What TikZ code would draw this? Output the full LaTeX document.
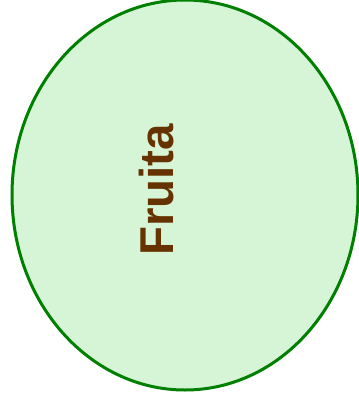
\documentclass[tikz,border=0pt]{standalone}
\usepackage{fontspec}
\setmainfont{Liberation Sans}
\usetikzlibrary{shapes.geometric}
\definecolor{leafgreen}{RGB}{0,128,0}
\definecolor{palegreen}{RGB}{214,245,214}
\definecolor{nutbrown}{RGB}{102,51,0}

\begin{document}
\begin{tikzpicture}[
  x=1pt, y=-1pt,
  blob/.style={
    ellipse,
    draw=leafgreen,
    line width=3pt,
    fill=palegreen,
    minimum width=346pt,
    minimum height=390pt,
    inner sep=0pt
  },
  lbl/.style={
    text=nutbrown,
    font=\fontsize{47.5}{52}\selectfont\bfseries,
    rotate=90,
    inner sep=0pt
  }
]
\useasboundingbox (0,0) rectangle (359,402);
\node[blob] (fruita) at (185,195) {};
\node[lbl] (fruitalbl) at (157,190) {Fruita};
\end{tikzpicture}
\end{document}
